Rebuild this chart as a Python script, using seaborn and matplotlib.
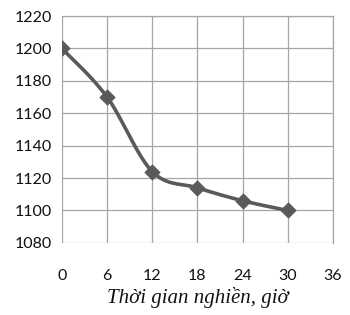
import numpy as np
import matplotlib
matplotlib.use("Agg")
import matplotlib.pyplot as plt
import seaborn as sns

hours = [0, 6, 12, 18, 24, 30]
values = [1200, 1170, 1124, 1114, 1106, 1100]
x_ticks = [0, 6, 12, 18, 24, 30, 36]
y_ticks = [1080, 1100, 1120, 1140, 1160, 1180, 1200, 1220]
x_label = "Thời gian nghiền, giờ"

sns.set_style("white")
plt.rcParams['font.family'] = ['Lato', 'DejaVu Sans']

def catmull_rom(xs, ys, n=30):
    xs = np.asarray(xs, float); ys = np.asarray(ys, float)
    P = np.column_stack([xs, ys])
    P = np.vstack([P[0], P, P[-1]])
    out = []
    for i in range(1, len(P) - 2):
        p0, p1, p2, p3 = P[i - 1], P[i], P[i + 1], P[i + 2]
        c1 = p1 + (p2 - p0) / 6
        c2 = p2 - (p3 - p1) / 6
        t = np.linspace(0, 1, n)[:, None]
        b = ((1 - t) ** 3) * p1 + 3 * ((1 - t) ** 2) * t * c1 + 3 * (1 - t) * t ** 2 * c2 + t ** 3 * p2
        out.append(b if i == 1 else b[1:])
    B = np.vstack(out)
    return B[:, 0], B[:, 1]

sx, sy = catmull_rom(hours, values)

fig = plt.figure(figsize=(3.5, 3.15), dpi=100)
ax = fig.add_axes([0.177, 0.229, 0.774, 0.72])

line_color = "#5a5a5a"
ax.plot(sx, sy, color=line_color, lw=2.6, zorder=3, solid_capstyle="round")
sns.scatterplot(x=hours, y=values, marker="D", s=60, color=line_color,
                edgecolor=line_color, ax=ax, zorder=4)

ax.set_xlim(0, 36)
ax.set_ylim(1080, 1220)
ax.set_xticks(x_ticks)
ax.set_yticks(y_ticks)
ax.grid(True, color="#a6a6a6", lw=0.9)
ax.set_axisbelow(True)
for s in ax.spines.values():
    s.set_color("#a6a6a6")
    s.set_linewidth(0.9)
ax.spines['left'].set_visible(False)
ax.spines['bottom'].set_visible(False)
ax.tick_params(axis='x', length=6, width=0.9, color="#a6a6a6", pad=13, labelsize=11.5)
ax.tick_params(axis='y', length=4, width=0.9, color="#a6a6a6", pad=3, labelsize=11.5)
ax.tick_params(axis='both', labelcolor="#111111")
ax.set_xlabel(x_label, fontfamily="Liberation Serif", fontstyle="italic",
              fontsize=15, color="#111111", labelpad=3)

fig.savefig("out.png", dpi=100)
